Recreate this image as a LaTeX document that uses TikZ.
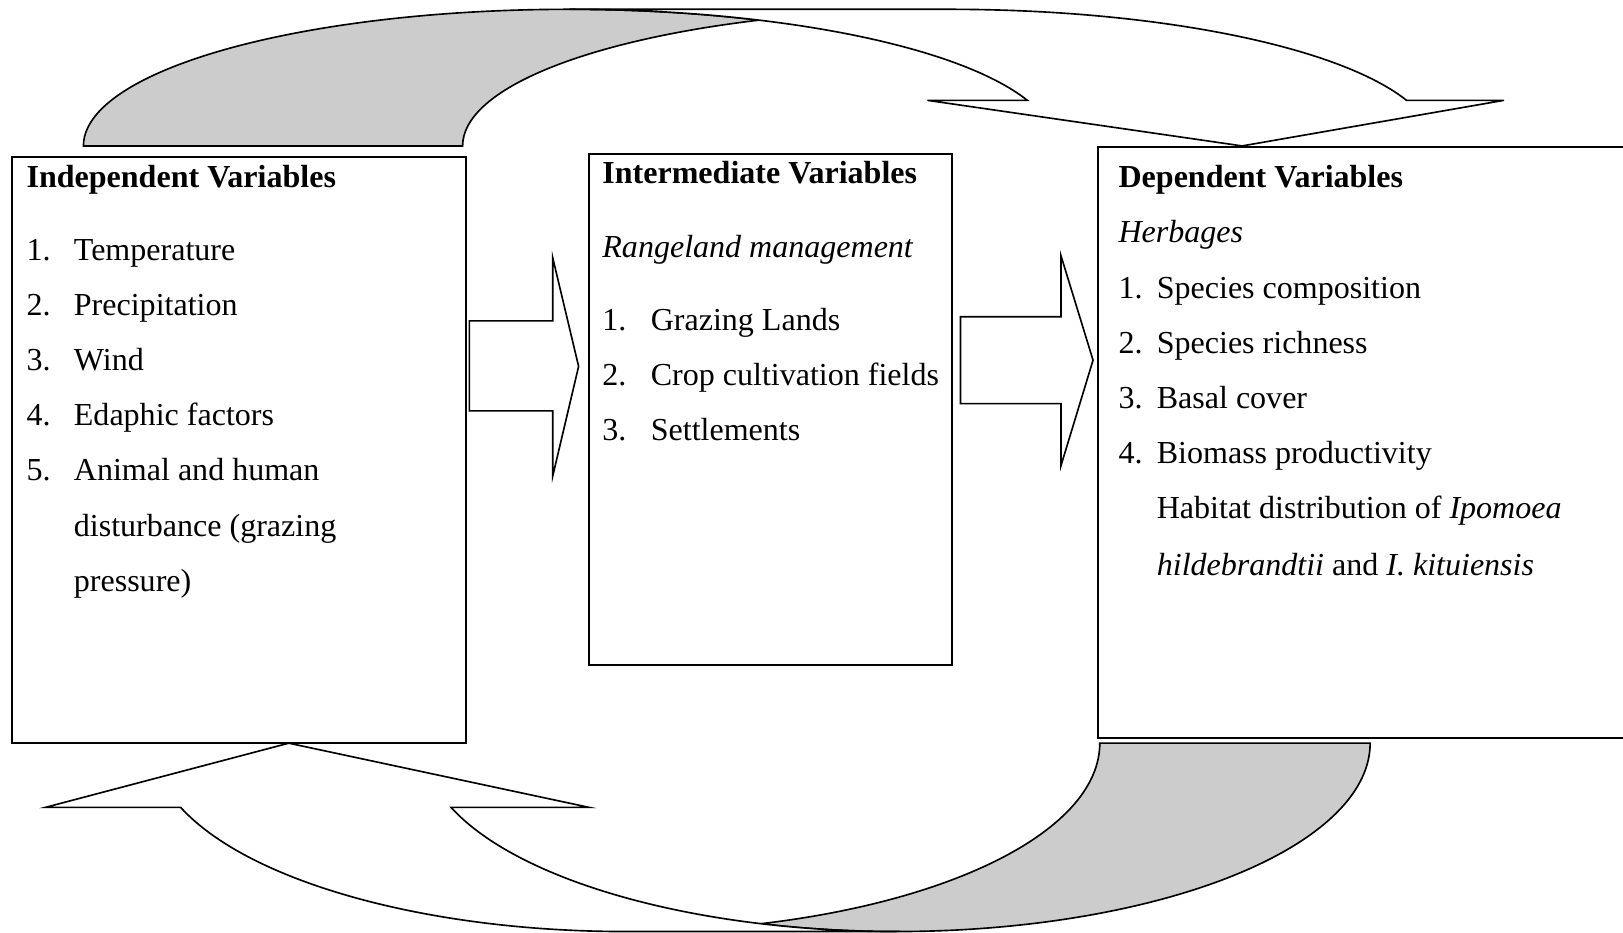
\documentclass[tikz,border=0pt]{standalone}
\usepackage{fontspec}
\setmainfont{Liberation Serif}
\newcommand{\varfont}{\fontsize{8.8pt}{15.15pt}\selectfont}
\begin{document}
\begin{tikzpicture}[x=0.01cm, y=-0.01cm]
      \tikzset{varbox/.style={draw, rectangle, anchor=north west, inner sep=0pt, line width=.55pt}}
      \tikzset{vartext/.style={anchor=base west, inner sep=0pt, font=\varfont}}
      \tikzset{blockarrow/.style={draw, fill=white, line width=.45pt}}
      \tikzset{backface/.style={draw, fill=black!20, line width=.45pt}}
      \tikzset{frontface/.style={draw, fill=white, line width=.45pt}}
      \useasboundingbox (0,0) rectangle (1568,901);
      \clip (0,0) rectangle (1568,901);
      \fill[white] (0,0) rectangle (1568,901);
%% Boxes
      	\node[varbox, minimum width=4.388cm, minimum height=5.659cm] (indep) at (10.5,150.7) {};
      	\node[varbox, minimum width=3.512cm, minimum height=4.93cm] (inter) at (567.8,148) {};
    	\node[varbox, minimum width=5.3cm, minimum height=5.708cm] (dep) at (1059.7,141) {};
%% Texts
  	    \node[vartext] (indeptext) at (25,180.7) {\begin{tabular}[t]{@{}l@{\hspace{6.4pt}}l@{}}
  	      \multicolumn{2}{@{}l@{}}{\textbf{Independent Variables}}\\[5pt]
  	      1. & Temperature\\
  	      2. & Precipitation\\
  	      3. & Wind\\
  	      4. & Edaphic factors\\
  	      5. & Animal and human\\
  	         & disturbance (grazing\\
  	         & pressure)
  	    \end{tabular}};
  	    \node[vartext] (intertext) at (581.3,177.5) {\begin{tabular}[t]{@{}l@{\hspace{6.7pt}}l@{}}
  	      \multicolumn{2}{@{}l@{}}{\textbf{Intermediate Variables}}\\[5pt]
  	      \multicolumn{2}{@{}l@{}}{\textit{Rangeland management}}\\[5pt]
  	      1. & Grazing Lands\\
  	      2. & Crop cultivation fields\\
  	      3. & Settlements
  	    \end{tabular}};
  	    \node[vartext] (deptext) at (1080,181.4) {\begin{tabular}[t]{@{}l@{\hspace{3.9pt}}l@{}}
  	      \multicolumn{2}{@{}l@{}}{\textbf{Dependent Variables}}\\
  	      \multicolumn{2}{@{}l@{}}{\textit{Herbages}}\\
  	      1. & Species composition\\
  	      2. & Species richness\\
  	      3. & Basal cover\\
  	      4. & Biomass productivity\\
  	         & Habitat distribution of \textit{Ipomoea}\\[0.4pt]
  	         & \textit{hildebrandtii} and \textit{I. kituiensis}
  	    \end{tabular}};
%Block arrows
		\draw[blockarrow] (453.5,310) -- (534,310) -- (534,249) -- (559,354) -- (534,460) -- (534,397) -- (453.5,397) -- cycle;
		\draw[blockarrow] (928,306) -- (1025,306) -- (1025,247) -- (1056,348) -- (1025,450) -- (1025,390) -- (928,390) -- cycle;
%Curved arrow, top
		\draw[backface] (80.6,141) arc[start angle=180, end angle=292.97, x radius=469.4, y radius=132]
		  arc[start angle=247.03, end angle=180, x radius=469.4, y radius=132] -- cycle;
		\draw[frontface] (550,9) -- (916.4,9) arc[start angle=270, end angle=340.5, x radius=469.4, y radius=132]
		  -- (1453,96.94) -- (1200,141) -- (896,96.94) -- (992.5,96.94)
		  arc[start angle=340.5, end angle=270, x radius=469.4, y radius=132] -- cycle;
%Curved arrow, bottom
		\draw[backface] (1323.7,718) arc[start angle=0, end angle=106.58, x radius=457.7, y radius=182]
		  arc[start angle=73.42, end angle=0, x radius=457.7, y radius=182] -- cycle;
		\draw[frontface] (866,900) -- (604.8,900) arc[start angle=90, end angle=160.08, x radius=457.7, y radius=182]
		  -- (44,780) -- (279,718) -- (569,780) -- (435.7,780)
		  arc[start angle=160.08, end angle=90, x radius=457.7, y radius=182] -- cycle;
	\end{tikzpicture}
\end{document}
